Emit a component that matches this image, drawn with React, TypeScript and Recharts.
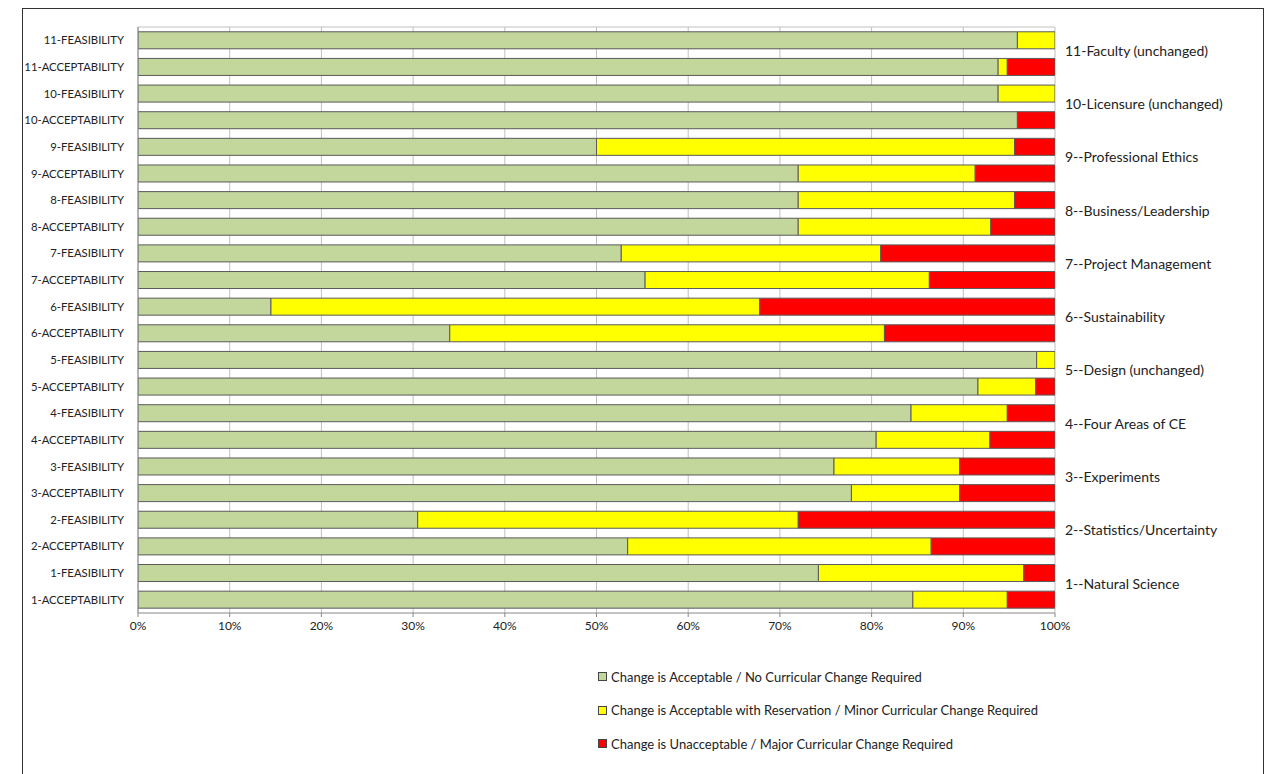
import { Bar, BarChart, CartesianGrid, Legend, XAxis, YAxis } from 'recharts'

const categories = [
  '11-FEASIBILITY', '11-ACCEPTABILITY',
  '10-FEASIBILITY', '10-ACCEPTABILITY',
  '9-FEASIBILITY', '9-ACCEPTABILITY',
  '8-FEASIBILITY', '8-ACCEPTABILITY',
  '7-FEASIBILITY', '7-ACCEPTABILITY',
  '6-FEASIBILITY', '6-ACCEPTABILITY',
  '5-FEASIBILITY', '5-ACCEPTABILITY',
  '4-FEASIBILITY', '4-ACCEPTABILITY',
  '3-FEASIBILITY', '3-ACCEPTABILITY',
  '2-FEASIBILITY', '2-ACCEPTABILITY',
  '1-FEASIBILITY', '1-ACCEPTABILITY',
]

const groupLabels = [
  '11-Faculty (unchanged)',
  '10-Licensure (unchanged)',
  '9--Professional Ethics',
  '8--Business/Leadership',
  '7--Project Management',
  '6--Sustainability',
  '5--Design (unchanged)',
  '4--Four Areas of CE',
  '3--Experiments',
  '2--Statistics/Uncertainty',
  '1--Natural Science',
]

// percent of responses
const acceptable = [95.9, 93.8, 93.8, 95.9, 50.0, 72.0, 72.0, 72.0, 52.7, 55.3, 14.5, 34.0, 98.0, 91.6, 84.3, 80.5, 75.9, 77.8, 30.5, 53.4, 74.2, 84.5]
const reservation = [4.1, 1.0, 6.2, 0, 45.6, 19.3, 23.6, 21.0, 28.3, 31.0, 53.3, 47.4, 2.0, 6.3, 10.5, 12.4, 13.7, 11.8, 41.5, 33.1, 22.4, 10.3]
const unacceptable = [0, 5.2, 0, 4.1, 4.4, 8.7, 4.4, 7.0, 19.0, 13.7, 32.2, 18.6, 0, 2.1, 5.2, 7.1, 10.4, 10.4, 28.0, 13.5, 3.4, 5.2]

const xTicks = [0, 10, 20, 30, 40, 50, 60, 70, 80, 90, 100]

const series = [
  { key: 'acceptable', name: 'Change is Acceptable / No Curricular Change Required', color: '#C3D69B' },
  { key: 'reservation', name: 'Change is Acceptable with Reservation / Minor Curricular Change Required', color: '#FFFF00' },
  { key: 'unacceptable', name: 'Change is Unacceptable / Major Curricular Change Required', color: '#FF0000' },
]

const data = categories.map((cat, i) => ({
  cat,
  acceptable: acceptable[i],
  reservation: reservation[i],
  unacceptable: unacceptable[i],
}))

const FONT = 'Lato, "Liberation Sans", sans-serif'

function GroupTick({ x, y, index }: any) {
  if (index % 2 !== 0) return null
  const label = groupLabels[index / 2]
  return (
    <text x={x + 2} y={y + 10} dominantBaseline="central" fontFamily={FONT} fontSize={14} fill="#222">
      {label}
    </text>
  )
}

function LegendBox() {
  return (
    <div style={{ fontFamily: FONT, fontSize: 13, color: '#222' }}>
      {series.map((s) => (
        <div key={s.key} style={{ display: 'flex', alignItems: 'center', height: 33.5 }}>
          <span
            style={{
              display: 'inline-block',
              width: 7,
              height: 7,
              background: s.color,
              border: '1px solid #444',
              marginRight: 4,
            }}
          />
          {s.name}
        </div>
      ))}
    </div>
  )
}

export default function App() {
  return (
    <div style={{ position: 'absolute', left: 0, top: 0, width: 1265, height: 774, background: '#fff', overflow: 'hidden' }}>
      <div
        style={{
          position: 'absolute',
          left: 22,
          top: 8,
          width: 1240,
          height: 800,
          border: '1px solid #333',
        }}
      />
      <div style={{ position: 'absolute', left: 0, top: 0 }}>
        <BarChart
          width={1265}
          height={774}
          data={data}
          layout="vertical"
          barCategoryGap="18%"
          margin={{ top: 27, right: 0, left: 0, bottom: 131 }}
        >
          <CartesianGrid
            stroke="#c0c0c0"
            horizontalCoordinatesGenerator={({ offset }: any) => [offset.top]}
          />
          <XAxis
            type="number"
            domain={[0, 100]}
            ticks={xTicks}
            allowDataOverflow
            tickFormatter={(v) => `${v}%`}
            height={30}
            stroke="#888"
            tickSize={4}
            tickMargin={4}
            tick={{ fontFamily: FONT, fontSize: 12, fill: '#222' }}
          />
          <YAxis
            yAxisId="left"
            type="category"
            dataKey="cat"
            width={138}
            stroke="#888"
            tickLine={false}
            tickMargin={8}
            interval={0}
            tick={{ fontFamily: FONT, fontSize: 11.3, fill: '#222' }}
          />
          <YAxis
            yAxisId="right"
            orientation="right"
            type="category"
            dataKey="cat"
            width={210}
            axisLine={false}
            tickLine={false}
            interval={0}
            tick={<GroupTick />}
          />
          <Legend
            layout="vertical"
            align="center"
            verticalAlign="middle"
            content={<LegendBox />}
            wrapperStyle={{ left: 598, top: 660, width: 500 }}
          />
          {series.map((s) => (
            <Bar
              key={s.key}
              yAxisId="left"
              dataKey={s.key}
              name={s.name}
              stackId="a"
              fill={s.color}
              stroke="#5a5a5a"
              strokeWidth={1}
              isAnimationActive={false}
            />
          ))}
        </BarChart>
      </div>
    </div>
  )
}
